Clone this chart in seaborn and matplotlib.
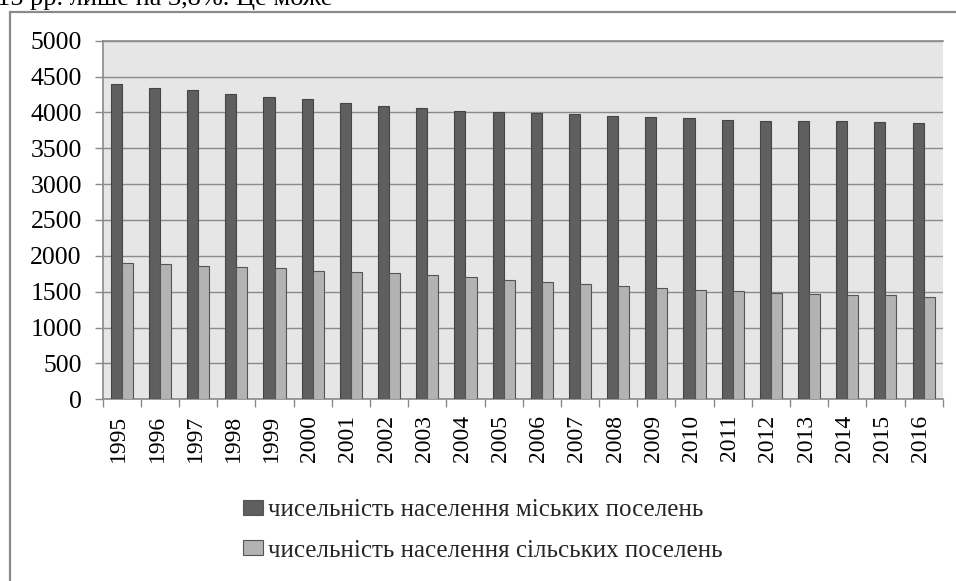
import matplotlib
matplotlib.use("Agg")
import matplotlib.pyplot as plt
import matplotlib.transforms as mtransforms
from matplotlib.patches import Rectangle
from matplotlib.ticker import FixedLocator, NullFormatter
import seaborn as sns
import pandas as pd

# ---- data ----
years = ["1995", "1996", "1997", "1998", "1999", "2000", "2001", "2002", "2003", "2004", "2005",
         "2006", "2007", "2008", "2009", "2010", "2011", "2012", "2013", "2014", "2015", "2016"]
urban = [4395, 4338, 4310, 4255, 4213, 4185, 4129, 4087, 4059, 4018, 4004,
         3994, 3976, 3948, 3934, 3920, 3892, 3878, 3878, 3878, 3864, 3850]
rural = [1897, 1883, 1855, 1841, 1827, 1786, 1772, 1758, 1730, 1702, 1660,
         1632, 1604, 1576, 1548, 1520, 1507, 1479, 1465, 1451, 1451, 1423]
series_names = ["чисельність населення міських поселень",
                "чисельність населення сільських поселень"]
yticks = [0, 500, 1000, 1500, 2000, 2500, 3000, 3500, 4000, 4500, 5000]
top_text = "15 рр. лише на 3,8%. Це може"

df = pd.DataFrame({
    "year": years * 2,
    "value": urban + rural,
    "series": [series_names[0]] * len(years) + [series_names[1]] * len(years),
})

sns.set_style("white")
plt.rcParams["font.family"] = ["Liberation Serif", "DejaVu Serif"]

W, H = 956, 581
fig = plt.figure(figsize=(W / 100, H / 100), dpi=100)
fig.patch.set_facecolor("white")

ax = fig.add_axes([102.7 / W, 1 - 399.3 / H, (942.7 - 102.7) / W, (399.3 - 40.7) / H])
ax.set_facecolor("#e6e6e6")

dark = "#5f5f5f"
light = "#b3b3b3"
sns.barplot(data=df, x="year", y="value", hue="series", order=years,
            hue_order=series_names, palette=[dark, light], width=0.58,
            linewidth=0.8, ax=ax, saturation=1)

for bar_container, ec in zip(ax.containers, ["#454545", "#555555"]):
    for p in bar_container:
        p.set_edgecolor(ec)
        p.set_zorder(3)

ax.set_ylim(0, 5000)
ax.set_xlim(-0.5, len(years) - 0.5)
ax.set_yticks(yticks)
ax.set_yticklabels([str(v) for v in yticks], fontsize=18.5)
ax.yaxis.grid(True, color="#8a8a8a", linewidth=1.0, zorder=0)
ax.set_axisbelow(True)
ax.xaxis.grid(False)
ax.set_xlabel("")
ax.set_ylabel("")

# spines
for s in ["left", "bottom", "top"]:
    ax.spines[s].set_visible(True)
    ax.spines[s].set_color("#8a8a8a")
    ax.spines[s].set_linewidth(1.2)
ax.spines["right"].set_visible(False)

ax.tick_params(axis="y", which="major", direction="out", length=6, width=1.0,
               color="#8a8a8a", pad=9, labelcolor="black", left=True)
ax.tick_params(axis="x", which="major", length=0, pad=11, labelcolor="black")
ax.xaxis.set_minor_locator(FixedLocator([i - 0.5 for i in range(len(years) + 1)]))
ax.xaxis.set_minor_formatter(NullFormatter())
ax.tick_params(axis="x", which="minor", direction="out", length=6, width=1.0,
               color="#8a8a8a", bottom=True)

ax.set_xticks(range(len(years)))
ax.set_xticklabels(years, rotation=90, fontsize=17, va="top", ha="center")
offset = mtransforms.ScaledTranslation(-3.0 / 100, 0, fig.dpi_scale_trans)
for lbl in ax.get_xticklabels():
    lbl.set_transform(lbl.get_transform() + offset)

# legend
handles, labels = ax.get_legend_handles_labels()
if ax.get_legend() is not None:
    ax.get_legend().remove()
for h in handles:
    h.set_edgecolor("#555555")
fig.legend(handles, labels, loc="upper left",
           bbox_to_anchor=(243 / W, 1 - 499 / H), frameon=False,
           fontsize=18, handlelength=0.8, handleheight=0.55,
           handletextpad=0.2, labelspacing=0.75, borderpad=0,
           borderaxespad=0)

# outer frame (continues past right and bottom edges)
frame = Rectangle((9.5 / W, -0.2), 1.2, (1 - 12 / H) + 0.2,
                  transform=fig.transFigure, fill=False,
                  edgecolor="#8a8a8a", linewidth=1.6, clip_on=False)
fig.add_artist(frame)

# clipped line of document text above the chart
fig.text(-0.003, 1 - 5 / H, top_text, fontsize=19, va="baseline", ha="left",
         color="black")

fig.savefig("out.png", dpi=100, facecolor="white")
